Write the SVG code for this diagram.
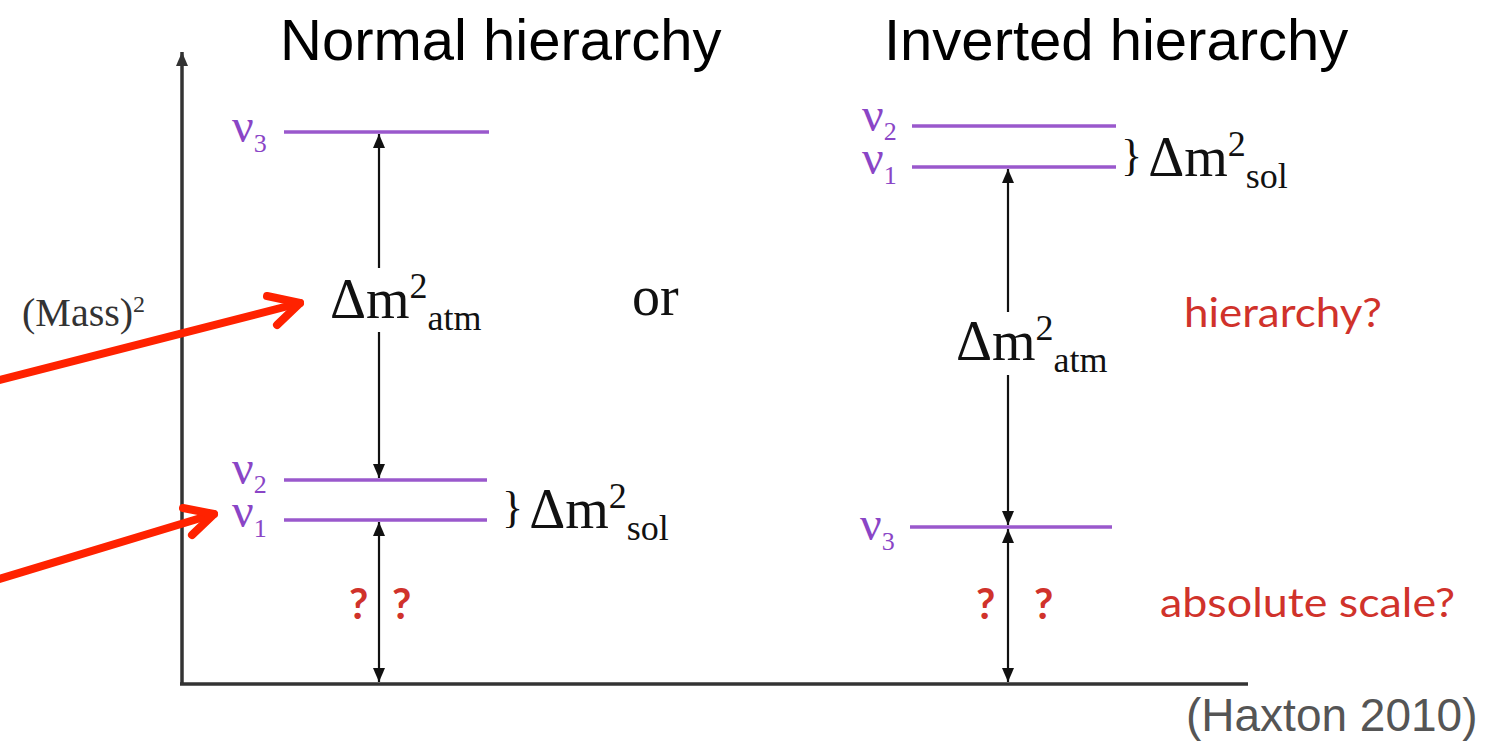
<svg xmlns="http://www.w3.org/2000/svg" width="1491" height="741" viewBox="0 0 1491 741">
<style>
.title{font-family:"Liberation Sans",Arial,sans-serif;font-size:58px;fill:#000}
.cite{font-family:"Liberation Sans",Arial,sans-serif;font-size:46px;fill:#555}
.math{font-family:"Liberation Serif","Times New Roman",serif;font-size:56px;fill:#111}
.nu{font-family:"Liberation Serif","Times New Roman",serif;font-size:48px;fill:#8a45c6}
.sub{font-size:26px}
.red{font-family:Lato,"Open Sans",sans-serif;font-size:40px;fill:#d0322b}
.q{font-family:Lato,"Open Sans",sans-serif;font-size:42px;font-weight:bold;fill:#d0322b}
.lvl{stroke:#9a58cc;stroke-width:3.5;fill:none}
.axis{stroke:#333;stroke-width:3.5;fill:none}
.arr{stroke:#111;stroke-width:2.2;fill:none}
.pointer{stroke:#ff2200;stroke-width:8;fill:none;stroke-linecap:round;stroke-linejoin:round}
</style>
<defs>
<marker id="ah" viewBox="0 0 14 12" refX="14" refY="6" markerWidth="14" markerHeight="12" markerUnits="userSpaceOnUse" orient="auto-start-reverse">
<path d="M0,0 L14,6 L0,12 z" fill="#111"/>
</marker>
<marker id="ahax" viewBox="0 0 14 12" refX="14" refY="6" markerWidth="14" markerHeight="12" markerUnits="userSpaceOnUse" orient="auto">
<path d="M0,0 L14,6 L0,12 z" fill="#333"/>
</marker>
</defs>
<rect width="1491" height="741" fill="#fff"/>

<g id="titles">
<text class="title" x="280" y="60">Normal hierarchy</text>
<text class="title" x="884" y="60">Inverted hierarchy</text>
<text class="cite" x="1186" y="731">(Haxton 2010)</text>
</g>

<g id="axes">
<line class="axis" x1="182" y1="684" x2="182" y2="52" marker-end="url(#ahax)"/>
<line class="axis" x1="180" y1="684" x2="1248" y2="684"/>
<text x="22" y="326" font-family="'Liberation Serif','Times New Roman',serif" font-size="40" fill="#333">(Mass)<tspan font-size="24" dy="-14">2</tspan></text>
</g>

<g id="normal-nu3">
<line class="lvl" x1="284" y1="132" x2="489" y2="132"/>
<text class="nu" x="232" y="142">ν<tspan class="sub" dy="10">3</tspan></text>
</g>
<g id="normal-nu2">
<line class="lvl" x1="284" y1="480" x2="487" y2="480"/>
<text class="nu" x="232" y="484">ν<tspan class="sub" dy="9">2</tspan></text>
</g>
<g id="normal-nu1">
<line class="lvl" x1="284" y1="520" x2="487" y2="520"/>
<text class="nu" x="232" y="527">ν<tspan class="sub" dy="10">1</tspan></text>
</g>

<g id="inv-nu2">
<line class="lvl" x1="912" y1="126" x2="1116" y2="126"/>
<text class="nu" x="862" y="131">ν<tspan class="sub" dy="9">2</tspan></text>
</g>
<g id="inv-nu1">
<line class="lvl" x1="912" y1="167" x2="1116" y2="167"/>
<text class="nu" x="862" y="174">ν<tspan class="sub" dy="10">1</tspan></text>
</g>
<g id="inv-nu3">
<line class="lvl" x1="910" y1="527" x2="1112" y2="527"/>
<text class="nu" x="860" y="540">ν<tspan class="sub" dy="10">3</tspan></text>
</g>

<g id="connectors">
<line class="arr" x1="379" y1="268" x2="379" y2="134" marker-end="url(#ah)"/>
<line class="arr" x1="379" y1="332" x2="379" y2="478" marker-end="url(#ah)"/>
<line class="arr" x1="379" y1="522" x2="379" y2="682" marker-start="url(#ah)" marker-end="url(#ah)"/>
<line class="arr" x1="1008" y1="312" x2="1008" y2="169" marker-end="url(#ah)"/>
<line class="arr" x1="1008" y1="375" x2="1008" y2="525" marker-end="url(#ah)"/>
<line class="arr" x1="1008" y1="529" x2="1008" y2="682" marker-start="url(#ah)" marker-end="url(#ah)"/>
<polyline class="pointer" points="-4,381 300,303"/>
<polyline class="pointer" points="267,296 300,303 277,325"/>
<polyline class="pointer" points="-4,580 214,514"/>
<polyline class="pointer" points="183,508 214,514 192,535"/>
</g>

<g id="labels">
<text class="math" x="330" y="318">Δm<tspan font-size="36" dy="-20">2</tspan><tspan font-size="36" dy="32">atm</tspan></text>
<text class="math" x="632" y="315">or</text>
<text class="math" x="502" y="528"><tspan font-size="44" dy="-6">}</tspan><tspan dx="6" dy="6">Δm</tspan><tspan font-size="36" dy="-20">2</tspan><tspan font-size="36" dy="32">sol</tspan></text>
<text class="math" x="1121" y="176"><tspan font-size="44" dy="-6">}</tspan><tspan dx="6" dy="6">Δm</tspan><tspan font-size="36" dy="-20">2</tspan><tspan font-size="36" dy="32">sol</tspan></text>
<text class="math" x="956" y="360">Δm<tspan font-size="36" dy="-20">2</tspan><tspan font-size="36" dy="32">atm</tspan></text>
</g>

<g id="questions">
<text class="q" x="349" y="619">?</text>
<text class="q" x="392" y="619">?</text>
<text class="q" x="976" y="619">?</text>
<text class="q" x="1034" y="619">?</text>
<text class="red" x="1184" y="327" textLength="198" lengthAdjust="spacingAndGlyphs">hierarchy?</text>
<text class="red" x="1160" y="617" textLength="295" lengthAdjust="spacingAndGlyphs">absolute scale?</text>
</g>
</svg>
